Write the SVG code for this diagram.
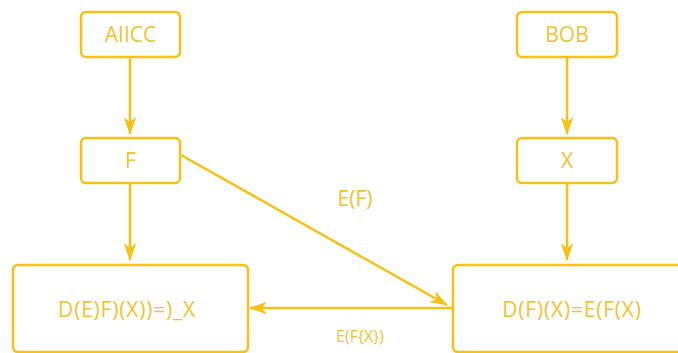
<svg xmlns="http://www.w3.org/2000/svg" width="678" height="353" viewBox="0 0 678 353">
<style>
.box{fill:#fff;stroke:#F5C114;stroke-width:2.5}
.t{font-family:"Open Sans","Liberation Sans",sans-serif;font-size:21px;fill:#F0C232;text-anchor:middle;dominant-baseline:central}
.lbl{font-family:"Open Sans","Liberation Sans",sans-serif;fill:#F0C232;text-anchor:middle}
.c{stroke:#F5C114;stroke-width:2.5;fill:none;marker-end:url(#ah)}
</style>
<defs>
<marker id="ah" viewBox="0 0 20 14" refX="19" refY="7" markerWidth="18" markerHeight="13" markerUnits="userSpaceOnUse" orient="auto">
<path d="M0,0 L20,7 L0,14 L6,7 z" fill="#F5C114"/>
</marker>
</defs>
<rect width="678" height="353" fill="#fff"/>
<g id="connectors">
<line class="c" x1="130" y1="57" x2="130" y2="134"/>
<line class="c" x1="130" y1="183" x2="130" y2="260"/>
<line class="c" x1="567" y1="57" x2="567" y2="134"/>
<line class="c" x1="567" y1="183" x2="567" y2="260"/>
<line class="c" x1="181" y1="155" x2="447" y2="305"/>
<line class="c" x1="453" y1="308" x2="250" y2="308"/>
<text class="lbl" x="355" y="206" font-size="21">E(F)</text>
<text class="lbl" x="360" y="342" font-size="16">E(F{X})</text>
</g>
<g id="alice"><rect class="box" x="81" y="12" width="99" height="45" rx="5"/><text class="t" x="130.5" y="34">AIICC</text></g>
<g id="f"><rect class="box" x="81" y="138" width="99" height="45" rx="5"/><text class="t" x="130.5" y="160">F</text></g>
<g id="bob"><rect class="box" x="517" y="12" width="100" height="45" rx="5"/><text class="t" x="567" y="34">BOB</text></g>
<g id="x"><rect class="box" x="517" y="138" width="100" height="45" rx="5"/><text class="t" x="567" y="160">X</text></g>
<g id="left"><rect class="box" x="13" y="265" width="235" height="87" rx="5"/><text class="t" x="127" y="309" letter-spacing="0.8">D(E)F)(X))=)_X</text></g>
<g id="right"><rect class="box" x="453" y="265" width="235" height="87" rx="5"/><text class="t" x="572" y="309" letter-spacing="0.8">D(F)(X)=E(F(X)</text></g>
</svg>
